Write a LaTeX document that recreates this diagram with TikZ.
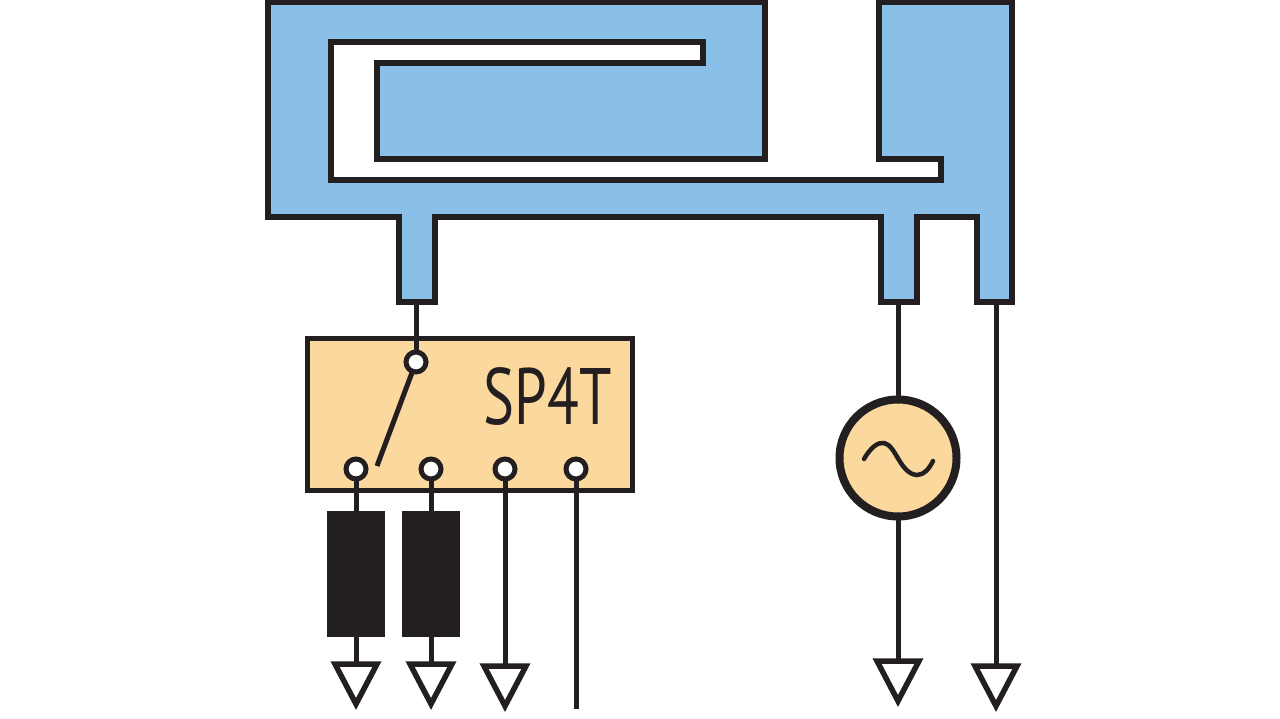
\documentclass[tikz,border=0pt]{standalone}
\usepackage{fontspec}
\setmainfont{PT Sans}
\definecolor{ink}{HTML}{231F20}
\definecolor{patch}{HTML}{8ABFE8}
\definecolor{tan}{HTML}{FBD89E}
\tikzset{
  wire/.style={draw=ink,line width=5pt},
  outline/.style={draw=ink,line width=5.5pt,miter limit=10,line join=miter},
  swbox/.style={rectangle,draw=ink,line width=5pt,fill=tan,minimum width=325pt,minimum height=151pt,inner sep=0pt,outer sep=0pt},
  term/.style={circle,draw=ink,line width=5pt,fill=white,minimum size=20pt,inner sep=0pt,outer sep=1pt},
  load/.style={rectangle,fill=ink,minimum width=58pt,minimum height=126pt,inner sep=0pt,outer sep=0pt},
  src/.style={circle,draw=ink,line width=8pt,fill=tan,minimum size=117pt,inner sep=0pt,outer sep=2pt},
  gndsym/.pic={\draw[outline,fill=white] (-21,0) -- (21,0) -- (0,40) -- cycle;}
}
\begin{document}
\begin{tikzpicture}[x=1pt,y=-1pt]
\useasboundingbox (0,0) rectangle (1280,719);
% antenna
\draw[outline,fill=patch] (268,2) -- (268,217) -- (399,217) -- (399,302) -- (435,302) -- (435,217)
  -- (881,217) -- (881,302) -- (917,302) -- (917,217) -- (977,217) -- (977,302) -- (1012,302)
  -- (1012,2) -- (879,2) -- (879,159) -- (941,159) -- (941,180) -- (331,180) -- (331,42)
  -- (703,42) -- (703,63) -- (377,63) -- (377,159) -- (765,159) -- (765,2) -- cycle;
\coordinate (feedA) at (416,304);
\coordinate (feedB) at (898,304);
\coordinate (feedC) at (996,304);
% switch
\node[swbox] (sw) at (469.5,414.5) {};
\node[anchor=base east,inner sep=0pt,font=\fontsize{80}{80}\selectfont,text=ink] (swlabel) at (612,424) {\scalebox{.73}[1]{SP4T}};
\node[term] (tc) at (416,362) {};
\node[term] (t1) at (356,469) {};
\node[term] (t2) at (431,469) {};
\node[term] (t3) at (505,469) {};
\node[term] (t4) at (576,469) {};
\coordinate (armend) at (377,466);
\draw[wire] (tc) -- (armend);
\draw[wire] (feedA) -- (tc);
% loads
\node[load] (r1) at (356,574) {};
\node[load] (r2) at (431,574) {};
% grounds
\coordinate (g1) at (356,664);
\coordinate (g2) at (431,664);
\coordinate (g3) at (505,666);
\coordinate (g4) at (898,661);
\coordinate (g5) at (996,666);
\coordinate (t4end) at (576,709);
\draw[wire] (t1) -- (r1);
\draw[wire] (t2) -- (r2);
\draw[wire] (r1) -- (g1);
\draw[wire] (r2) -- (g2);
\draw[wire] (t3) -- (g3);
\draw[wire] (t4) -- (t4end);
% source
\node[src] (vs) at (898,458) {};
\draw[wire] (feedB) -- (vs);
\draw[wire] (vs) -- (g4);
\draw[wire] (feedC) -- (g5);
\draw[draw=ink,line width=4.5pt,line cap=round] (864,459) .. controls (871,447) and (878,442) .. (884,443)
  .. controls (896,445) and (900,474) .. (917,475) .. controls (924,475) and (929,469) .. (933,461);
\foreach \g in {g1,g2,g3,g4,g5} \path (\g) pic {gndsym};
\end{tikzpicture}
\end{document}
